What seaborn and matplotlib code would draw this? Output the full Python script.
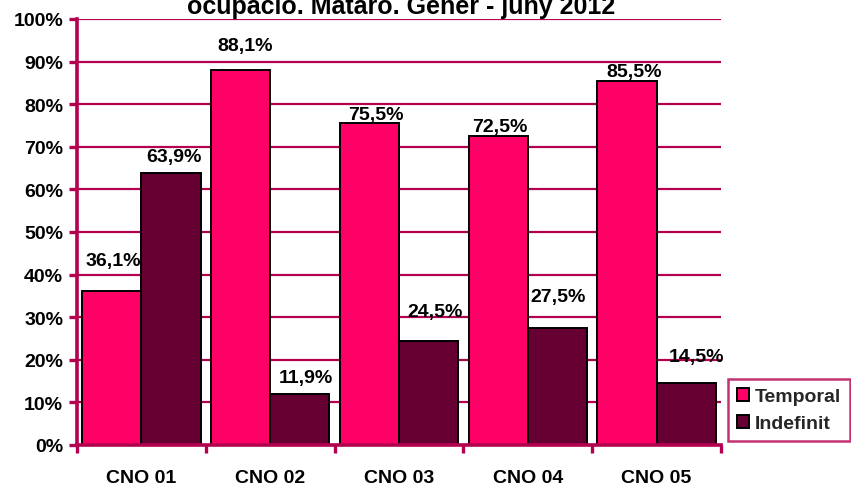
import matplotlib
matplotlib.use("Agg")
import matplotlib.pyplot as plt
import seaborn as sns
import pandas as pd
from matplotlib.ticker import FixedLocator, FuncFormatter
from matplotlib.patches import Patch

# Data: share of hires by contract type and occupation group (%)
categories = ["CNO 01", "CNO 02", "CNO 03", "CNO 04", "CNO 05"]
temporal = [36.1, 88.1, 75.5, 72.5, 85.5]
indefinit = [63.9, 11.9, 24.5, 27.5, 14.5]
series_names = ["Temporal", "Indefinit"]
title_text = "ocupació. Mataró. Gener - juny 2012"

# Label offsets in pixels (dx, dy) from the top centre of each bar
label_offsets = {
    "Temporal": [(1, 31), (5, 24), (6, 9), (2, 10), (7, 9)],
    "Indefinit": [(3, 16), (6, 17), (6, 29), (1, 31), (10, 27)],
}

PINK = "#FF0066"
MAROON = "#660033"
CRIMSON = "#B3004F"

df = pd.DataFrame({
    "cat": categories * 2,
    "serie": [series_names[0]] * len(categories) + [series_names[1]] * len(categories),
    "valor": temporal + indefinit,
})

sns.set_theme(style="white")
plt.rcParams["font.family"] = ["Liberation Sans", "DejaVu Sans"]
plt.rcParams["font.weight"] = "bold"

fig = plt.figure(figsize=(8.51, 4.89), dpi=100)
ax = fig.add_axes([77 / 851, 43 / 489, 644 / 851, 426 / 489])

sns.barplot(
    data=df, x="cat", y="valor", hue="serie", order=categories,
    hue_order=series_names, palette=[PINK, MAROON], width=0.92,
    edgecolor="black", linewidth=1.4, saturation=1, ax=ax, legend=False,
    zorder=3,
)

ax.set_ylim(0, 100)
ax.set_xlim(-0.5, len(categories) - 0.5)
ax.set_xlabel("")
ax.set_ylabel("")

# Gridlines
ax.yaxis.set_major_locator(FixedLocator(range(0, 101, 10)))
ax.yaxis.set_major_formatter(FuncFormatter(lambda v, p: f"{int(v)}%"))
for v in range(10, 101, 10):
    ax.axhline(v, color=CRIMSON, lw=1.6, zorder=1)

for s in ["top", "right"]:
    ax.spines[s].set_visible(False)
for s in ["left", "bottom"]:
    ax.spines[s].set_color(CRIMSON)
    ax.spines[s].set_linewidth(2.6)
    ax.spines[s].set_zorder(4)

ax.tick_params(axis="y", direction="out", length=6, width=2.4, color=CRIMSON,
               labelsize=14, pad=4, left=True)
ax.xaxis.set_minor_locator(FixedLocator([i - 0.5 for i in range(len(categories) + 1)]))
ax.tick_params(axis="x", which="major", length=0, labelsize=14, pad=17, bottom=False)
ax.tick_params(axis="x", which="minor", direction="out", length=6, width=2.4,
               color=CRIMSON, bottom=True)
for lab in ax.get_xticklabels() + ax.get_yticklabels():
    lab.set_fontweight("bold")
    lab.set_color("black")

# Value labels
for cont, name in zip(ax.containers, series_names):
    for bar, (dx, dy) in zip(cont, label_offsets[name]):
        h = bar.get_height()
        ax.annotate(f"{h:.1f}%".replace(".", ","),
                    xy=(bar.get_x() + bar.get_width() / 2, h),
                    xytext=(dx, dy), textcoords="offset pixels",
                    ha="center", va="center", fontsize=14, fontweight="bold",
                    color="black", zorder=5, annotation_clip=False)

# Legend
handles = [Patch(facecolor=PINK, edgecolor="black", lw=1.4),
           Patch(facecolor=MAROON, edgecolor="black", lw=1.4)]
leg = fig.legend(handles, series_names, loc="lower left",
                 bbox_to_anchor=(728 / 851, 1 - 442 / 489),
                 bbox_transform=fig.transFigure, borderaxespad=0,
                 fancybox=False, frameon=True, fontsize=14,
                 handlelength=0.65, handleheight=0.65, handletextpad=0.3,
                 labelspacing=0.5, borderpad=0.45)
leg.get_frame().set_edgecolor(CRIMSON)
leg.get_frame().set_linewidth(1.8)
for t in leg.get_texts():
    t.set_fontweight("bold")

fig.text(401 / 851, 1 - 14 / 489, title_text, ha="center", va="baseline",
         fontsize=18, fontweight="bold", color="black")

fig.savefig("out.png", dpi=100, facecolor="white")
